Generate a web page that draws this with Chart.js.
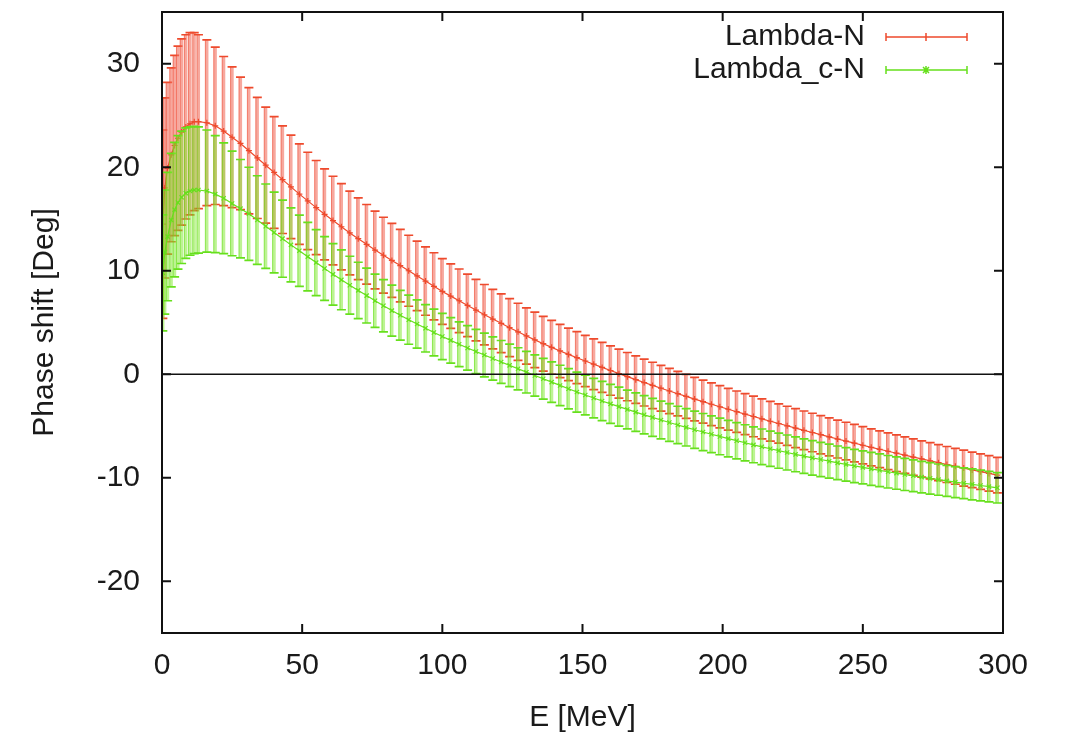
<!DOCTYPE html>
<html>
<head>
<meta charset="utf-8">
<script src="https://cdn.jsdelivr.net/npm/chart.js@4"></script>
<style>
  body { margin: 0; background: #fff; }
  #wrap { width: 1066px; height: 736px; }
</style>
</head>
<body>
<div id="wrap"><canvas id="chart" width="1066" height="736"></canvas></div>
<script>
// energy grid [MeV]
const energy = [
  0.3, 1, 2, 3.3, 4.5, 5.7, 7, 8.5, 10, 11.5,
  13, 16, 19, 22, 25, 28, 31, 34, 37, 40,
  43, 46, 49, 52, 55, 58, 61, 64, 67, 70,
  73, 76, 79, 82, 85, 88, 91, 94, 97, 100,
  103, 106, 109, 112, 115, 118, 121, 124, 127, 130,
  133, 136, 139, 142, 145, 148, 151, 154, 157, 160,
  163, 166, 169, 172, 175, 178, 181, 184, 187, 190,
  193, 196, 199, 202, 205, 208, 211, 214, 217, 220,
  223, 226, 229, 232, 235, 238, 241, 244, 247, 250,
  253, 256, 259, 262, 265, 268, 271, 274, 277, 280,
  283, 286, 289, 292, 295, 298
];

// Lambda-N phase shift and error
const lamN = [
  14.5, 18.0, 19.9, 21.2, 22.1, 22.8, 23.4, 23.9, 24.2, 24.4,
  24.4, 24.3, 24.0, 23.5, 22.9, 22.3, 21.6, 20.9, 20.2, 19.5,
  18.8, 18.1, 17.4, 16.75, 16.1, 15.45, 14.85, 14.25, 13.65, 13.1,
  12.55, 12.0, 11.5, 11.0, 10.5, 10.0, 9.5, 9.0, 8.5, 8.0,
  7.55, 7.1, 6.65, 6.2, 5.75, 5.33, 4.92, 4.5, 4.1, 3.7,
  3.32, 2.95, 2.6, 2.25, 1.92, 1.6, 1.28, 0.97, 0.66, 0.36,
  0.06, -0.23, -0.52, -0.8, -1.08, -1.35, -1.62, -1.88, -2.14, -2.4,
  -2.65, -2.9, -3.14, -3.38, -3.62, -3.85, -4.08, -4.31, -4.54, -4.76,
  -4.98, -5.2, -5.42, -5.63, -5.84, -6.05, -6.26, -6.46, -6.66, -6.86,
  -7.06, -7.25, -7.44, -7.63, -7.82, -8.0, -8.18, -8.36, -8.54, -8.72,
  -8.9, -9.07, -9.24, -9.41, -9.58, -9.75
];
const lamNErr = [
  9.1, 8.7, 8.3, 8.4, 8.7, 8.9, 9.0, 8.9, 8.8, 8.6,
  8.4, 8.0, 7.6, 7.2, 6.8, 6.4, 6.1, 5.85, 5.6, 5.4,
  5.2, 5.0, 4.85, 4.7, 4.55, 4.4, 4.28, 4.16, 4.05, 3.95,
  3.85, 3.76, 3.67, 3.58, 3.5, 3.43, 3.36, 3.3, 3.24, 3.18,
  3.12, 3.07, 3.02, 2.97, 2.92, 2.88, 2.84, 2.8, 2.76, 2.72,
  2.68, 2.64, 2.6, 2.57, 2.54, 2.51, 2.48, 2.45, 2.42, 2.39,
  2.36, 2.33, 2.3, 2.27, 2.24, 2.21, 2.18, 2.15, 2.12, 2.1,
  2.08, 2.06, 2.04, 2.02, 2.0, 1.98, 1.96, 1.94, 1.92, 1.9,
  1.89, 1.88, 1.87, 1.86, 1.85, 1.84, 1.83, 1.82, 1.81, 1.8,
  1.79, 1.78, 1.77, 1.77, 1.76, 1.76, 1.75, 1.75, 1.74, 1.74,
  1.73, 1.73, 1.72, 1.72, 1.71, 1.71
];

// Lambda_c-N phase shift and error
const lamcN = [
  9.8, 11.8, 13.3, 14.9, 15.9, 16.6, 17.1, 17.5, 17.7, 17.8,
  17.8, 17.7, 17.4, 17.0, 16.5, 16.0, 15.5, 14.9, 14.3, 13.7,
  13.1, 12.5, 11.93, 11.36, 10.79, 10.22, 9.65, 9.12, 8.6, 8.1,
  7.6, 7.1, 6.62, 6.15, 5.7, 5.27, 4.85, 4.44, 4.04, 3.65,
  3.27, 2.9, 2.54, 2.2, 1.86, 1.52, 1.19, 0.86, 0.53, 0.2,
  -0.12, -0.44, -0.76, -1.08, -1.4, -1.72, -2.01, -2.3, -2.58, -2.86,
  -3.13, -3.4, -3.66, -3.92, -4.17, -4.42, -4.66, -4.9, -5.13, -5.36,
  -5.58, -5.8, -6.01, -6.22, -6.42, -6.62, -6.82, -7.01, -7.2, -7.38,
  -7.56, -7.74, -7.91, -8.08, -8.24, -8.4, -8.56, -8.71, -8.86, -9.0,
  -9.14, -9.28, -9.42, -9.55, -9.68, -9.81, -9.94, -10.06, -10.18, -10.3,
  -10.42, -10.53, -10.64, -10.75, -10.86, -10.97
];
const lamcNErr = [
  5.6, 6.0, 6.2, 6.45, 6.5, 6.45, 6.4, 6.3, 6.2, 6.15,
  6.1, 5.9, 5.65, 5.35, 5.05, 4.75, 4.5, 4.28, 4.08, 3.9,
  3.73, 3.58, 3.44, 3.31, 3.19, 3.08, 2.98, 2.89, 2.8, 2.72,
  2.65, 2.58, 2.52, 2.46, 2.41, 2.37, 2.33, 2.29, 2.26, 2.23,
  2.2, 2.17, 2.15, 2.13, 2.11, 2.09, 2.07, 2.05, 2.03, 2.01,
  1.99, 1.97, 1.96, 1.95, 1.94, 1.93, 1.92, 1.91, 1.9, 1.89,
  1.88, 1.87, 1.86, 1.85, 1.84, 1.83, 1.82, 1.81, 1.8, 1.8,
  1.79, 1.78, 1.77, 1.76, 1.75, 1.74, 1.73, 1.72, 1.71, 1.7,
  1.69, 1.68, 1.67, 1.66, 1.65, 1.64, 1.63, 1.62, 1.61, 1.6,
  1.59, 1.58, 1.57, 1.56, 1.55, 1.54, 1.53, 1.52, 1.51, 1.5,
  1.5, 1.49, 1.49, 1.48, 1.48, 1.47
];

const xTicks = [0, 50, 100, 150, 200, 250, 300];
const yTicks = [-20, -10, 0, 10, 20, 30];

const FONT = "'Liberation Sans', Arial, Helvetica, sans-serif";
const TXT = "#1a1a1a";

function pts(vals) {
  return energy.map((e, i) => ({ x: e, y: vals[i] }));
}

// gnuplot style error bars, drawn just before each dataset's line
const errorBars = {
  id: "errorBars",
  beforeDatasetDraw(chart, args) {
    const ds = chart.data.datasets[args.index];
    const xs = chart.scales.x, ys = chart.scales.y;
    const ctx = chart.ctx;
    const a = chart.chartArea;
    ctx.save();
    ctx.beginPath();
    ctx.rect(a.left, a.top, a.right - a.left, a.bottom - a.top);
    ctx.clip();
    ds.data.forEach((p, i) => {
      const px = xs.getPixelForValue(p.x);
      const hi = ys.getPixelForValue(p.y + ds.err[i]);
      const lo = ys.getPixelForValue(p.y - ds.err[i]);
      ctx.strokeStyle = ds.barColor;
      ctx.lineWidth = 3.2;
      ctx.beginPath();
      ctx.moveTo(px, hi);
      ctx.lineTo(px, lo);
      ctx.stroke();
      ctx.strokeStyle = ds.edgeColor;
      ctx.lineWidth = 1;
      ctx.beginPath();
      ctx.moveTo(px - 1.5, hi); ctx.lineTo(px - 1.5, lo);
      ctx.stroke();
      ctx.strokeStyle = ds.borderColor;
      ctx.lineWidth = 1.7;
      ctx.beginPath();
      ctx.moveTo(px - 4.5, hi); ctx.lineTo(px + 4.5, hi);
      ctx.moveTo(px - 4.5, lo); ctx.lineTo(px + 4.5, lo);
      ctx.stroke();
    });
    ctx.restore();
  }
};

// frame, inward ticks, zero axis and the key
const frame = {
  id: "frame",
  afterDatasetsDraw(chart) {
    const ctx = chart.ctx, a = chart.chartArea;
    const y0 = chart.scales.y.getPixelForValue(0);
    ctx.save();
    ctx.strokeStyle = "#111";
    ctx.lineWidth = 1.6;
    ctx.beginPath();
    ctx.moveTo(a.left, y0);
    ctx.lineTo(a.right, y0);
    ctx.stroke();
    ctx.restore();
  },
  afterDraw(chart) {
    const ctx = chart.ctx, a = chart.chartArea;
    const xs = chart.scales.x, ys = chart.scales.y;
    ctx.save();
    ctx.strokeStyle = "#111";
    ctx.lineWidth = 2;
    ctx.strokeRect(a.left, a.top, a.right - a.left, a.bottom - a.top);
    const t = 9;
    ctx.beginPath();
    xTicks.forEach(v => {
      const px = xs.getPixelForValue(v);
      ctx.moveTo(px, a.bottom); ctx.lineTo(px, a.bottom - t);
      ctx.moveTo(px, a.top); ctx.lineTo(px, a.top + t);
    });
    yTicks.forEach(v => {
      const py = ys.getPixelForValue(v);
      ctx.moveTo(a.left, py); ctx.lineTo(a.left + t, py);
      ctx.moveTo(a.right, py); ctx.lineTo(a.right - t, py);
    });
    ctx.stroke();

    // key
    ctx.font = "30px " + FONT;
    ctx.textAlign = "right";
    ctx.textBaseline = "middle";
    chart.data.datasets.forEach((ds, i) => {
      const ky = 37 + i * 33;
      ctx.fillStyle = TXT;
      ctx.fillText(ds.label, 865, ky);
      ctx.strokeStyle = ds.borderColor;
      ctx.lineWidth = 1.5;
      ctx.beginPath();
      ctx.moveTo(886, ky); ctx.lineTo(967, ky);
      ctx.moveTo(886, ky - 4); ctx.lineTo(886, ky + 4);
      ctx.moveTo(967, ky - 4); ctx.lineTo(967, ky + 4);
      ctx.moveTo(926, ky - 4); ctx.lineTo(926, ky + 4);
      if (ds.pointStyle === "crossRot") {
        ctx.moveTo(923, ky - 3); ctx.lineTo(929, ky + 3);
        ctx.moveTo(923, ky + 3); ctx.lineTo(929, ky - 3);
      }
      ctx.stroke();
    });
    ctx.restore();
  }
};

new Chart(document.getElementById("chart"), {
  type: "scatter",
  data: {
    datasets: [
      {
        label: "Lambda-N",
        data: pts(lamN),
        err: lamNErr,
        barColor: "rgba(242, 105, 88, 0.58)",
        edgeColor: "rgba(236, 70, 45, 0.6)",
        borderColor: "#ee4a2c",
        backgroundColor: "#ee4a2c",
        borderWidth: 1.2,
        showLine: true,
        pointStyle: "cross",
        pointRadius: 3,
        pointBorderWidth: 1.2,
        order: 2
      },
      {
        label: "Lambda_c-N",
        data: pts(lamcN),
        err: lamcNErr,
        barColor: "rgba(128, 232, 48, 0.52)",
        edgeColor: "rgba(100, 222, 20, 0.65)",
        borderColor: "#66e01c",
        backgroundColor: "#66e01c",
        borderWidth: 1.2,
        showLine: true,
        pointStyle: "crossRot",
        pointRadius: 3,
        pointBorderWidth: 1.2,
        order: 1
      }
    ]
  },
  options: {
    responsive: false,
    animation: false,
    events: [],
    layout: { padding: { left: 0, right: 63, top: 12, bottom: 0 } },
    plugins: {
      legend: { display: false },
      tooltip: { enabled: false }
    },
    scales: {
      x: {
        type: "linear",
        min: 0,
        max: 300,
        afterBuildTicks: s => { s.ticks = xTicks.map(v => ({ value: v })); },
        afterFit: s => { s.height = 103; s.paddingLeft = 0; s.paddingRight = 0; },
        grid: { display: false, drawTicks: false },
        border: { display: false },
        ticks: { padding: 15, color: TXT, font: { size: 30, family: FONT }, maxRotation: 0 },
        title: { display: true, text: "E [MeV]", color: TXT, font: { size: 30, family: FONT }, padding: { top: 0, bottom: 0 } }
      },
      y: {
        type: "linear",
        min: -25,
        max: 35,
        afterBuildTicks: s => { s.ticks = yTicks.map(v => ({ value: v })); },
        afterFit: s => { s.width = 162; s.paddingTop = 0; s.paddingBottom = 0; },
        grid: { display: false, drawTicks: false },
        border: { display: false },
        ticks: { padding: 22, color: TXT, font: { size: 30, family: FONT } },
        title: { display: true, text: "Phase shift [Deg]", color: TXT, font: { size: 30, family: FONT }, padding: { top: 27, bottom: 0 } }
      }
    }
  },
  plugins: [errorBars, frame]
});
</script>
</body>
</html>
